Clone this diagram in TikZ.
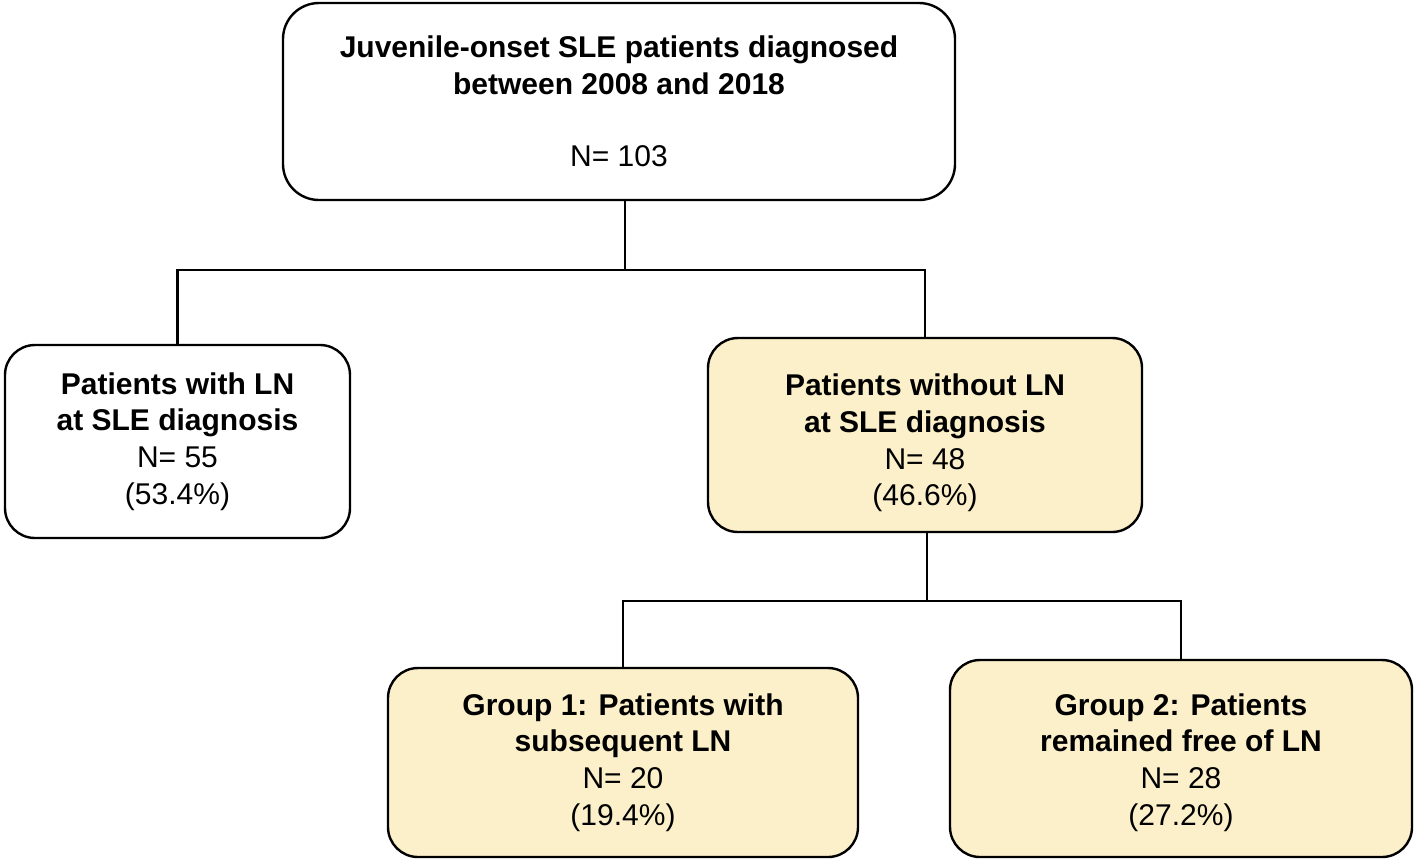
\documentclass[tikz,border=0pt]{standalone}
\usepackage{fontspec}
\setmainfont{Liberation Sans}
\definecolor{boxfill}{RGB}{252,240,202}
\begin{document}
\begin{tikzpicture}[x=0.5pt,y=-0.5pt,
  box/.style={draw=black, line width=1.2pt, rounded corners=15pt, inner sep=0pt,
    align=center, font=\fontsize{15}{18.4}\selectfont},
  filled/.style={box, fill=boxfill},
  conn/.style={draw=black, line width=1.2pt}]
\useasboundingbox (0,0) rectangle (1416,863);
\node[box, rounded corners=18pt, minimum width=336pt, minimum height=98.5pt] (top) at (619,101.5)
  {\textbf{Juvenile-onset SLE patients diagnosed}\\\textbf{between 2008 and 2018}\\[17.8pt]N= 103};
\node[box, minimum width=172.5pt, minimum height=96.5pt] (left) at (177.5,441.5)
  {\textbf{Patients with LN}\\\textbf{at SLE diagnosis}\\N= 55\\(53.4\%)};
\node[filled, minimum width=217pt, minimum height=97pt] (right) at (925,435)
  {\raisebox{-4pt}[\height][\depth]{\parbox{200pt}{\centering\textbf{Patients without LN}\\\textbf{at SLE diagnosis}\\N= 48\\(46.6\%)}}};
\node[filled, minimum width=235pt, minimum height=94.5pt] (g1) at (623,762.5)
  {\textbf{Group 1: Patients with}\\\textbf{subsequent LN}\\N= 20\\(19.4\%)};
\node[filled, minimum width=231pt, minimum height=98.5pt] (g2) at (1181,758.5)
  {\raisebox{-2pt}[\height][\depth]{\parbox{220pt}{\centering\textbf{Group 2: Patients}\\\textbf{remained free of LN}\\N= 28\\(27.2\%)}}};
\coordinate (j1) at (625,270);
\coordinate (j2) at (927,601);
\draw[conn] (top.south -| j1) -- (j1);
\draw[conn] (left.north) |- (j1) -| (right.north);
\draw[conn] (right.south -| j2) -- (j2);
\draw[conn] (g1.north) |- (j2) -| (g2.north);
\end{tikzpicture}
\end{document}
